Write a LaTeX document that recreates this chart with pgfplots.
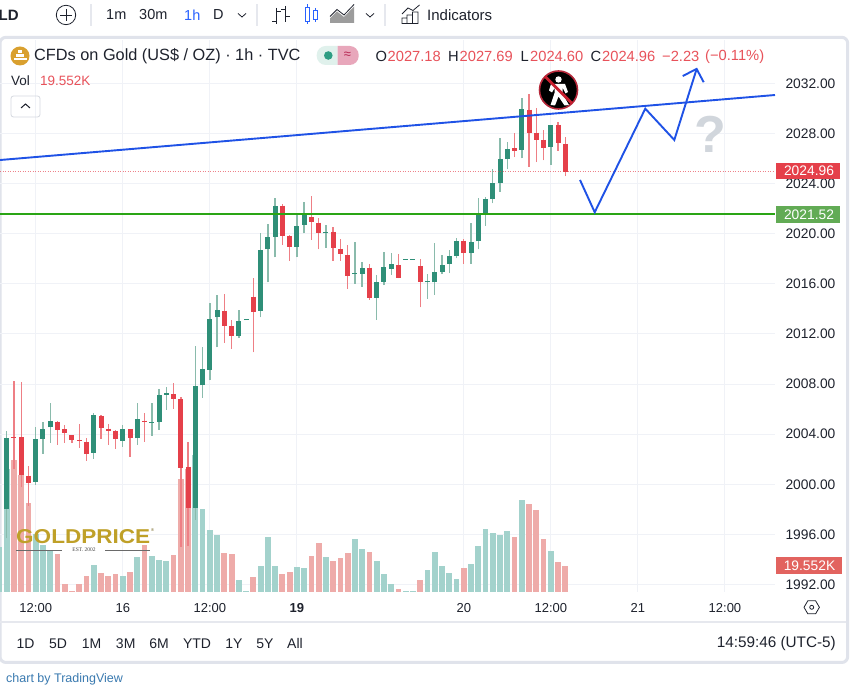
\documentclass[border=0pt]{standalone}
\usepackage{fontspec}
\setmainfont{Liberation Sans}
\newfontfamily\serifsm{Liberation Serif}
\usepackage{pgfplots}
\usepackage{pgfplotstable}
\pgfplotsset{compat=1.18}
\definecolor{upb}{HTML}{2F8F78}
\definecolor{dnb}{HTML}{E5404A}
\definecolor{upw}{HTML}{8ABBAC}
\definecolor{dnw}{HTML}{EE7F85}
\definecolor{volu}{HTML}{A3D2CC}
\definecolor{vold}{HTML}{EEABA9}
\definecolor{gridc}{HTML}{F0F2F7}
\definecolor{bandc}{HTML}{E0E3EB}
\definecolor{txt}{HTML}{1E222D}
\definecolor{hdrred}{HTML}{E8525A}
\definecolor{tblue}{HTML}{1F52E6}
\definecolor{tgreen}{HTML}{2AA515}
\definecolor{goldc}{HTML}{BFA028}
\definecolor{tagg}{HTML}{62AB55}
\definecolor{tagv}{HTML}{E2635F}
\definecolor{qmark}{HTML}{D1D6DC}
\definecolor{stopr}{HTML}{B5283A}
\definecolor{stops}{HTML}{C8202F}
\definecolor{logod}{HTML}{6B5A12}
\definecolor{logol}{HTML}{6A6A6A}
\definecolor{estc}{HTML}{444444}
\definecolor{goldi}{HTML}{D9A02F}
\definecolor{pillg}{HTML}{E0F1EC}
\definecolor{pillr}{HTML}{E8A7BB}
\definecolor{dotg}{HTML}{2E9D83}
\definecolor{pilt}{HTML}{B5234F}
\definecolor{btn}{HTML}{D6D9E0}
\definecolor{sepc}{HTML}{E6E8EE}
\definecolor{blu}{HTML}{2962FF}
\definecolor{areag}{HTML}{9C9C9C}
\definecolor{tvc}{HTML}{3A7AB0}
% o h l c
\newcommand{\U}[5]{%
  \addplot[upw,line width=1.4pt] coordinates {(#1,#4) (#1,#3)};
  \addplot[upb,line width=5pt] coordinates {(#1,#2) (#1,#5)};
}
\newcommand{\D}[5]{%
  \addplot[dnw,line width=1.4pt] coordinates {(#1,#4) (#1,#3)};
  \addplot[dnb,line width=5pt] coordinates {(#1,#2) (#1,#5)};
}
\pgfplotstableread{
x v
-1 34.2
0 93.6
4 44.4
5 35.5
6 31.7
12 20.3
16 11.9
18 26.4
20 27.1
21 24.6
22 23.6
26 104
27 62.9
28 46.9
29 43.6
32 8.9
33 0.5
35 19.5
36 41.6
37 19.5
40 18.8
41 18.5
44 26.4
48 40.3
49 32.7
51 23.8
52 14
53 6.3
55 0.5
56 0.5
58 17
59 30.7
60 19.5
61 14.7
62 10.1
64 21.6
65 35.3
66 47.9
67 44.9
68 43.6
69 46.4
71 69.8
75 31.2
}\volup
\pgfplotstableread{
x v
1 100.2
2 88.8
3 67.7
7 28.7
8 6.1
9 0.5
10 5.8
11 12.2
13 14.5
14 12.2
15 13.7
17 15
19 35.5
23 27.9
24 86.3
25 93.9
30 29.7
31 29.2
34 11.2
38 13.4
39 15.2
42 27.7
43 37
45 23.3
46 26.1
47 29.7
50 30.4
54 2.5
57 9.4
63 18.5
70 41.6
72 66.7
73 62.2
74 40.6
76 22.8
77 19.55
}\voldn
\pgfplotsset{base/.style={at={(0pt,100pt)},anchor=south west,scale only axis,
  width=775pt,height=552pt,xmin=-0.9235,xmax=105.9}}
\begin{document}
\begin{tikzpicture}[x=1pt,y=1pt]
\path[use as bounding box,fill=white] (0,0) rectangle (850,692);
\begin{scope}[shift={(0,692)},y=-1pt]
\draw[bandc,line width=3pt,rounded corners=6pt] (0,37.3) rectangle (847.7,662.5);
\end{scope}
% grid and scales
\begin{axis}[base,ymin=1991.401,ymax=2035.473,
  axis line style={draw=none},tick style={draw=none},major tick length=0pt,
  xmajorgrids,ymajorgrids,grid style={gridc,line width=1pt},
  xtick={4,16,28,40,63,75,87,99},
  xticklabels={12:00,16,12:00,\textbf{19},20,12:00,21,12:00},
  ytick={1992,1996,...,2032},
  yticklabel pos=right,
  yticklabel style={anchor=west,xshift=7pt,text=txt,font=\fontsize{13.8}{14}\selectfont,
    /pgf/number format/.cd,fixed,fixed zerofill,precision=2,1000 sep={},assume math mode=true},
  xticklabel style={text=txt,font=\fontsize{13}{14}\selectfont,yshift=-8pt}]
\end{axis}
% volume
\begin{axis}[base,ymin=0,ymax=420,hide axis]
\addplot[ycomb,volu,line width=5.8pt] table[x=x,y=v] {\volup};
\addplot[ycomb,vold,line width=5.8pt] table[x=x,y=v] {\voldn};
\end{axis}
% candles and drawings
\begin{axis}[base,ymin=1991.401,ymax=2035.473,hide axis]
\U{0}{1998.03}{2004.29}{1995.69}{2003.73}
\D{1}{2003.78}{2008.28}{2001.23}{2003.68}
\D{2}{2003.75}{2008.17}{1999.76}{2000.75}
\D{3}{2000.69}{2001.49}{1998.27}{2000.13}
\U{4}{2000.21}{2004.60}{1999.95}{2003.62}
\U{5}{2003.62}{2004.95}{2002.42}{2004.42}
\U{6}{2004.55}{2006.47}{2003.33}{2005.09}
\D{7}{2005.00}{2005.09}{2003.14}{2004.34}
\D{8}{2004.39}{2004.74}{2003.33}{2004.10}
\D{9}{2003.91}{2003.91}{2003.33}{2003.54}
\D{10}{2003.54}{2004.82}{2002.90}{2003.43}
\D{11}{2003.38}{2003.67}{2001.89}{2002.42}
\U{12}{2002.53}{2005.67}{2002.02}{2005.54}
\D{13}{2005.46}{2005.54}{2003.62}{2004.47}
\D{14}{2004.45}{2004.82}{2003.14}{2004.26}
\D{15}{2004.26}{2004.34}{2002.82}{2003.62}
\U{16}{2003.49}{2004.77}{2003.01}{2004.39}
\D{17}{2004.42}{2004.42}{2002.21}{2003.67}
\U{18}{2003.67}{2006.52}{2003.14}{2005.19}
\D{19}{2005.09}{2005.67}{2003.41}{2004.98}
\U{20}{2004.90}{2006.47}{2003.86}{2005.00}
\U{21}{2004.98}{2007.61}{2004.34}{2007.11}
\U{22}{2007.16}{2007.75}{2005.94}{2007.27}
\D{23}{2007.19}{2008.12}{2006.02}{2006.84}
\D{24}{2006.81}{2007.00}{1995.02}{2001.33}
\D{25}{2001.41}{2003.41}{1995.10}{1998.11}
\U{26}{1998.11}{2011.04}{1997.15}{2007.85}
\U{27}{2007.90}{2010.94}{2006.92}{2009.23}
\U{28}{2009.15}{2014.45}{2008.30}{2013.20}
\U{29}{2013.33}{2015.11}{2010.94}{2013.92}
\D{30}{2013.87}{2015.20}{2011.31}{2012.67}
\D{31}{2012.61}{2013.12}{2010.83}{2011.87}
\U{32}{2011.87}{2013.92}{2011.66}{2013.01}
\U{33}{2013.11}{2013.16}{2013.11}{2013.16}
\D{34}{2014.98}{2016.45}{2010.54}{2013.76}
\U{35}{2013.87}{2020.09}{2013.33}{2018.71}
\U{36}{2018.76}{2020.76}{2016.13}{2019.75}
\U{37}{2019.77}{2022.83}{2018.12}{2022.22}
\D{38}{2022.25}{2022.38}{2019.11}{2019.85}
\D{39}{2019.83}{2019.91}{2017.83}{2018.98}
\U{40}{2018.98}{2021.58}{2018.12}{2020.63}
\U{41}{2020.71}{2022.57}{2020.04}{2021.50}
\D{42}{2021.32}{2023.02}{2019.51}{2020.95}
\D{43}{2020.89}{2021.24}{2018.76}{2020.09}
\U{44}{2020.04}{2020.73}{2018.90}{2020.12}
\D{45}{2020.15}{2020.57}{2017.83}{2018.90}
\D{46}{2018.79}{2019.56}{2017.83}{2018.36}
\D{47}{2018.31}{2019.11}{2015.62}{2016.66}
\U{48}{2016.77}{2019.35}{2016.02}{2016.85}
\U{49}{2016.79}{2017.72}{2015.76}{2017.30}
\D{50}{2017.30}{2017.59}{2014.72}{2014.85}
\U{51}{2014.88}{2016.69}{2013.12}{2016.15}
\U{52}{2016.18}{2018.52}{2015.91}{2017.33}
\U{53}{2017.22}{2018.44}{2016.74}{2017.59}
\D{54}{2017.48}{2018.39}{2016.45}{2016.50}
\U{55}{2017.97}{2018.01}{2017.97}{2018.01}
\U{56}{2017.97}{2018.01}{2017.97}{2018.01}
\D{57}{2017.43}{2017.99}{2014.13}{2016.15}
\U{58}{2016.13}{2016.77}{2014.82}{2016.21}
\U{59}{2016.13}{2019.24}{2015.14}{2016.95}
\U{60}{2016.95}{2018.31}{2016.77}{2017.54}
\U{61}{2017.59}{2018.71}{2016.85}{2018.26}
\U{62}{2018.26}{2019.69}{2018.04}{2019.45}
\D{63}{2019.45}{2019.56}{2017.62}{2018.47}
\U{64}{2018.44}{2020.84}{2017.62}{2019.32}
\U{65}{2019.40}{2022.86}{2018.76}{2021.56}
\U{66}{2021.56}{2022.97}{2020.65}{2022.78}
\U{67}{2022.78}{2025.15}{2022.43}{2024.03}
\U{68}{2024.03}{2027.64}{2023.37}{2025.97}
\U{69}{2025.97}{2027.33}{2025.15}{2026.77}
\D{70}{2026.83}{2028.02}{2026.13}{2026.59}
\U{71}{2026.69}{2030.82}{2026.03}{2029.99}
\D{72}{2029.91}{2031.16}{2025.36}{2028.08}
\D{73}{2028.08}{2030.02}{2025.73}{2027.52}
\D{74}{2027.49}{2028.26}{2025.87}{2026.88}
\U{75}{2026.91}{2028.69}{2025.52}{2028.69}
\D{76}{2028.69}{2028.90}{2026.64}{2027.23}
\D{77}{2027.18}{2027.69}{2024.60}{2024.96}
\addplot[dnb,opacity=0.65,line width=1pt,dash pattern=on 1pt off 1.5pt] coordinates {(-0.92,2024.96) (105.9,2024.96)};
\addplot[tgreen,line width=1.9pt] coordinates {(-0.92,2021.55) (105.9,2021.55)};
\addplot[tblue,line width=1.9pt] coordinates {(-0.92,2025.89) (105.9,2031.08)};
\addplot[tblue,line width=1.9pt,line join=miter] coordinates {(79.02,2024.30) (81.05,2021.72) (88.02,2029.99) (92.02,2027.49) (95.10,2033.16)};
\addplot[tblue,line width=1.9pt] coordinates {(93.18,2032.60) (95.10,2033.16) (96.07,2032.10)};
\end{axis}
\begin{scope}[shift={(0,692)},y=-1pt]
\tikzset{t/.style={anchor=west,inner sep=0pt,text=txt,font=\fontsize{#1}{#1}\selectfont}}
% price tags
\fill[dnb] (776,162.7) rectangle (840,179.3);
\node[text=white,font=\fontsize{13.8}{14}\selectfont] at (809,171) {2024.96};
\fill[tagg] (776,206.3) rectangle (840,222.7);
\node[text=white,font=\fontsize{13.8}{14}\selectfont] at (809,214.5) {2021.52};
\fill[tagv] (776,557.3) rectangle (841.5,574.3);
\node[text=white,font=\fontsize{13.8}{14}\selectfont] at (809.5,566) {19.552K};
% hexagon
\draw[txt,line width=0.8pt] (804,607.3)--(807.8,600.8)--(815.6,600.8)--(819.4,607.3)--(815.6,613.8)--(807.8,613.8)--cycle;
\draw[txt,line width=0.8pt] (811.7,607.3) circle (2);
% question mark
\node[text=qmark,font=\fontsize{52}{52}\bfseries] at (710.5,134) {?};
% no-pedestrian sign
\fill[black] (558.5,90) circle (19);
\draw[stopr,line width=1.6pt] (558.5,90) circle (19);
\fill[white] (558.5,79.5) circle (3.2);
\fill[white] (551,84)--(565,84)--(568,92)--(565.5,93.5)--(562.5,87.5)--(562.5,94)--(569,105)--(564.5,105.5)--(558.5,96.5)--(555,105.5)--(550.5,105)--(554.5,93)--(554.5,88)--(552,92.5)--(549,90.5)--cycle;
\draw[stops,line width=2.8pt] (545,76.5)--(572,103.5);
% logo
\node[inner sep=0pt,text=goldc,anchor=west] at (16,536.3) {\resizebox{134pt}{14pt}{\bfseries GOLDPRICE}};
\node[inner sep=0pt,text=logod,font=\fontsize{4}{4}\selectfont] at (152.5,530) {®};
\draw[logol,line width=0.7pt] (16,550)--(62,550) (105,550)--(150,550);
\node[inner sep=0pt,font=\serifsm\fontsize{5.5}{6}\selectfont,text=estc] at (84,550) {EST. 2002};
% header
\fill[goldi] (20,56) circle (9.5);
\fill[white] (13.5,58) rectangle (26.5,60);
\fill[white] (16,54) rectangle (24,57);
\fill[white] (18,50.5) rectangle (22,53);
\node[t=16.3] at (34,56) {CFDs on Gold (US\$ / OZ) · 1h · TVC};
\begin{scope}
\clip (316.7,46) rectangle (337.7,65);
\fill[pillg,rounded corners=9pt] (316.7,46) rectangle (358.7,65);
\end{scope}
\begin{scope}
\clip (337.7,46) rectangle (358.7,65);
\fill[pillr,rounded corners=9pt] (316.7,46) rectangle (358.7,65);
\end{scope}
\fill[dotg] (328.3,55.5) circle (4.3);
\node[text=pilt,font=\fontsize{13}{13}\selectfont] at (347.5,55.5) {≈};
\node[t=14.7] at (375.5,56.5) {O};
\node[t=14.7,text=hdrred] at (387.5,56.5) {2027.18};
\node[t=14.7] at (448,56.5) {H};
\node[t=14.7,text=hdrred] at (459.5,56.5) {2027.69};
\node[t=14.7] at (520.5,56.5) {L};
\node[t=14.7,text=hdrred] at (530,56.5) {2024.60};
\node[t=14.7] at (590.5,56.5) {C};
\node[t=14.7,text=hdrred] at (602,56.5) {2024.96};
\node[t=14.7,text=hdrred] at (662,56.5) {−2.23};
\node[t=14.7,text=hdrred] at (705,56.5) {(−0.11\%)};
\node[t=13.5] at (11,81) {Vol};
\node[t=13.5,text=hdrred] at (40,81) {19.552K};
\draw[btn,line width=0.8pt,rounded corners=2.5pt] (11,96) rectangle (40,117);
\draw[txt,line width=1pt] (21,108)--(25.5,104)--(30,108);
% toolbar
\node[t=15,font=\fontsize{15}{15}\bfseries] at (-1.5,15) {LD};
\draw[txt,line width=0.8pt] (66,15) circle (9.7);
\draw[txt,line width=0.8pt] (66,9)--(66,21) (60,15)--(72,15);
\foreach \px in {91,257,385} \fill[sepc] (\px-0.7,4) rectangle (\px+0.7,26);
\node[t=14.5] at (106,15) {1m};
\node[t=14.5] at (139,15) {30m};
\node[t=14.5,text=blu] at (184,15) {1h};
\node[t=14.5] at (213,15) {D};
\draw[txt,line width=0.8pt] (238,13.5)--(242,17)--(246,13.5);
\draw[txt,line width=0.8pt] (366,13.5)--(370,17)--(374,13.5);
\draw[txt,line width=0.8pt] (276.7,8)--(276.7,24) (272,21.5)--(276.7,21.5) (276.7,11)--(281,11)
  (285,6)--(285,22) (281,9)--(285,9) (285,16)--(289.5,16);
\draw[blu,line width=0.9pt] (307,4.5)--(307,7.3) (307,21.7)--(307,24.5) (305,7.3) rectangle (309.3,21.7);
\draw[blu,line width=0.9pt] (315.5,8)--(315.5,10.7) (315.5,19.3)--(315.5,22) (313.3,10.7) rectangle (317.7,19.3);
\fill[areag] (330,23)--(330,18.5)--(337,11.5)--(344,17)--(354,6.5)--(354,23)--cycle;
\draw[txt,line width=0.8pt] (330,16.5)--(337,9.5)--(344,15)--(354,4.5);
\draw[txt,line width=0.8pt] (402,23.5) rectangle (407,18) (407,23.5) rectangle (412.5,15) (412.5,23.5) rectangle (418,12) (402,14)--(408,8)--(413,10.5)--(419.5,5);
\node[t=15] at (427,15.5) {Indicators};
% range bar
\fill[sepc] (0,621.5) rectangle (846,622.7);
\foreach \px/\lab in {25.5/1D,58/5D,91.6/1M,125.7/3M,159/6M,197/YTD,234/1Y,265/5Y,295/All}
  \node[text=txt,font=\fontsize{14}{14}\selectfont,inner sep=0pt] at (\px,643.5) {\lab};
\node[anchor=east,inner sep=0pt,text=txt,font=\fontsize{15.3}{15}\selectfont] at (836,643.5) {14:59:46 (UTC-5)};
\node[t=12.5,text=tvc] at (6,679) {chart by TradingView};
\end{scope}
\end{tikzpicture}
\end{document}
